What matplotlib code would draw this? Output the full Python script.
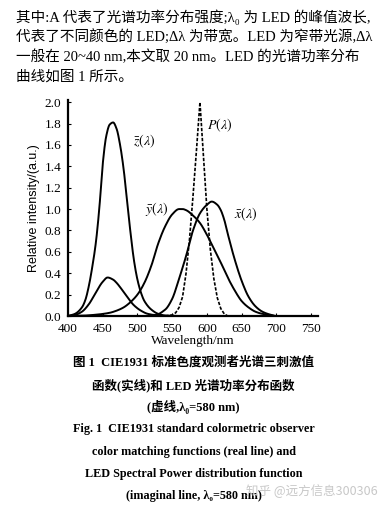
import numpy as np
import matplotlib.pyplot as plt

plt.rcParams['font.family'] = ['Liberation Serif', 'Noto Sans CJK SC', 'DejaVu Serif']
plt.rcParams['mathtext.fontset'] = 'stix'

# values (nm, relative intensity)
wl_z = [400, 410, 420, 425, 430, 435, 440, 445, 450, 455, 460, 465, 470, 475,
        480, 485, 490, 495, 500, 505, 510, 520, 530, 540, 560]
z_bar = [0.0, 0.02, 0.08, 0.15, 0.28, 0.46, 0.68, 1.0, 1.42, 1.68, 1.79, 1.81, 1.75, 1.6,
         1.38, 1.08, 0.78, 0.52, 0.34, 0.22, 0.14, 0.06, 0.02, 0.005, 0.0]

wl_y = [400, 420, 440, 460, 470, 480, 490, 500, 510, 520, 530, 540, 550, 560, 565,
        570, 580, 590, 600, 610, 620, 630, 640, 650, 660, 670, 680, 690, 700, 760]
y_bar = [0.0, 0.003, 0.012, 0.03, 0.05, 0.08, 0.13, 0.2, 0.31, 0.47, 0.68, 0.84, 0.95, 1.0, 1.0,
         0.99, 0.94, 0.87, 0.76, 0.63, 0.5, 0.36, 0.24, 0.14, 0.08, 0.04, 0.02, 0.01, 0.0, 0.0]

wl_x = [400, 410, 420, 430, 440, 450, 457, 465, 470, 475, 485, 495, 505, 515, 525,
        540, 550, 560, 570, 580, 590, 600, 607, 615, 620, 625, 630, 640, 650, 660,
        670, 680, 690, 700, 760]
x_bar = [0.0, 0.01, 0.04, 0.11, 0.22, 0.32, 0.36, 0.34, 0.31, 0.27, 0.18, 0.1, 0.05, 0.02, 0.01,
         0.06, 0.16, 0.35, 0.56, 0.8, 0.96, 1.04, 1.07, 1.04, 0.99, 0.9, 0.77, 0.53, 0.33, 0.18,
         0.09, 0.04, 0.015, 0.0, 0.0]

wl_p = [540, 550, 555, 560, 565, 570, 575, 580, 585, 590, 595, 600, 605, 610, 615,
        620, 625, 630, 640]
p_led = [0.0, 0.01, 0.03, 0.08, 0.18, 0.4, 0.72, 1.12, 1.55, 2.0, 1.5, 1.0, 0.62, 0.35, 0.17,
         0.07, 0.02, 0.0, 0.0]


def pchip(x, y, n=500):
    # monotone cubic through the read points, so the curves look drawn not polygonal
    x = np.asarray(x, float)
    y = np.asarray(y, float)
    h = np.diff(x)
    d = np.diff(y) / h
    m = np.zeros_like(y)
    m[0], m[-1] = d[0], d[-1]
    for k in range(1, len(x) - 1):
        if d[k - 1] * d[k] > 0:
            w1 = 2 * h[k] + h[k - 1]
            w2 = h[k] + 2 * h[k - 1]
            m[k] = (w1 + w2) / (w1 / d[k - 1] + w2 / d[k])
    xs = np.linspace(x[0], x[-1], n)
    i = np.clip(np.searchsorted(x, xs) - 1, 0, len(h) - 1)
    t = (xs - x[i]) / h[i]
    ys = ((2 * t**3 - 3 * t**2 + 1) * y[i] + (t**3 - 2 * t**2 + t) * h[i] * m[i]
          + (-2 * t**3 + 3 * t**2) * y[i + 1] + (t**3 - t**2) * h[i] * m[i + 1])
    return xs, ys


fig = plt.figure(figsize=(3.87, 5.12), dpi=100)
ax = fig.add_axes([0.1757, 0.3828, 0.646, 0.4219])

for wl, vals in [(wl_z, z_bar), (wl_y, y_bar), (wl_x, x_bar)]:
    ax.plot(*pchip(wl, vals), color='black', lw=1.4)
ax.plot(wl_p, p_led, color='black', lw=1.2, ls=(0, (2, 1)))

ax.text(493, 1.63, r'$\bar{z}(\lambda)$', fontsize=10, va='center')
ax.text(511, 1.0, r'$\bar{y}(\lambda)$', fontsize=10, va='center')
ax.text(639, 0.95, r'$\bar{x}(\lambda)$', fontsize=10, va='center')
ax.text(600, 1.78, r'$P(\lambda)$', fontsize=10, va='center')

ax.set_xlim(400, 760)
ax.set_ylim(0, 2.02)
ax.set_xticks(np.arange(400, 751, 50))
ax.set_yticks(np.arange(0, 2.01, 0.2))
ax.set_yticklabels(['%.1f' % v for v in np.arange(0, 2.01, 0.2)])
ax.tick_params(direction='in', length=2, labelsize=9.5, pad=5)
for s in ['top', 'right']:
    ax.spines[s].set_visible(False)
for s in ['left', 'bottom']:
    ax.spines[s].set_linewidth(1.6)
ax.set_xlabel('Wavelength/nm', fontsize=9.5, labelpad=0)
ax.set_ylabel('Relative intensity/(a.u.)', fontsize=9, family='Liberation Sans', labelpad=3)

# paragraph above the chart
lines = ['其中:A 代表了光谱功率分布强度;λ₀ 为 LED 的峰值波长,',
         '代表了不同颜色的 LED;Δλ 为带宽。LED 为窄带光源,Δλ',
         '一般在 20~40 nm,本文取 20 nm。LED 的光谱功率分布',
         '曲线如图 1 所示。']
for i, t in enumerate(lines):
    fig.text(16 / 387, 1 - (17 + 20 * i) / 512, t, fontsize=10.5, fontweight='medium',
             va='center', ha='left')

caption = ['图 1  CIE1931 标准色度观测者光谱三刺激值',
           '函数(实线)和 LED 光谱功率分布函数',
           '(虚线,λ₀=580 nm)',
           'Fig. 1  CIE1931 standard colormetric observer',
           'color matching functions (real line) and',
           'LED Spectral Power distribution function',
           '(imaginal line, λ₀=580 nm)']
ys = [362, 385, 407, 429, 452, 474, 496]
sizes = [9, 9, 9, 8.7, 8.7, 8.7, 8.7]
for t, y, fs in zip(caption, ys, sizes):
    fig.text(0.5, 1 - y / 512, t, fontsize=fs, fontweight='bold', ha='center', va='center')

fig.text(0.975, 1 - 491 / 512, '知乎 @远方信息300306', fontsize=9, color='#c8c8c8',
         ha='right', va='center', family=['Noto Sans CJK SC', 'DejaVu Sans'])

fig.savefig('out.png', dpi=100)
